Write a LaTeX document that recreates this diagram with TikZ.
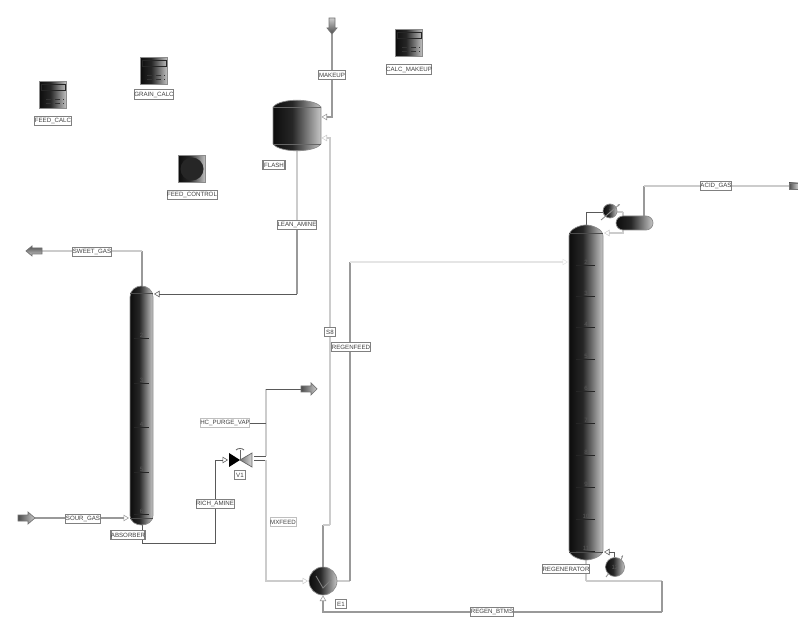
\documentclass[tikz,border=0pt]{standalone}
\usepackage{fontspec}
\setmainfont{Liberation Sans}
\usetikzlibrary{arrows.meta}
\usetikzlibrary{positioning}

\pgfdeclarehorizontalshading{steelshade}{100bp}{color(0bp)=(black!95); color(25bp)=(black!95); color(45bp)=(black!85); color(75bp)=(black!22); color(100bp)=(black!22)}

\tikzset{
  tag/.style={draw=black!50, fill=white, line width=0.5pt, font=\fontsize{3.5}{4}\selectfont, text=black!75, inner sep=0pt, minimum height=0.19cm},
  pipe/.style={draw=black!40, line width=0.65pt},
  pipelight/.style={draw=black!20, line width=0.6pt},
  pipefaint/.style={draw=black!10, line width=0.6pt},
  pipedark/.style={draw=black!65, line width=0.55pt},
  port/.style={-{Triangle[open,length=0.11cm,width=0.13cm,line width=0.3pt]}},
  steel/.style={shading=steelshade, draw=black!45, line width=0.4pt},
  calcbox/.style={steel, minimum width=0.55cm, minimum height=0.55cm, inner sep=0pt},
  tray/.style={draw=black!85, line width=0.45pt},
  traynum/.style={font=\fontsize{3.5}{4}\selectfont, text=black!65, inner sep=0pt},
  feedarrow/.style={draw=black!55, line width=0.4pt, left color=black!70, right color=black!20},
}

\begin{document}
\begin{tikzpicture}[x=0.02cm,y=-0.02cm]
  \useasboundingbox (0,0) rectangle (798,621);
  % Calculator blocks
  \node[calcbox] (calcmakeup) at (409,43) {};
  \node[calcbox] (graincalc) at (154,71) {};
  \node[calcbox] (feedcalc) at (53,95) {};
  \node[calcbox] (feedcontrol) at (192,169) {};
  \foreach \b in {calcmakeup,graincalc,feedcalc}{
    \draw[black!85, line width=0.4pt] ([shift={(2,3)}]\b.north west) rectangle ([shift={(-2,9)}]\b.north east);
    \draw[black!80, densely dashed, line width=0.5pt] ([shift={(7,-10)}]\b.south west) -- ([shift={(-3,-10)}]\b.south east);
    \draw[black!80, densely dashed, line width=0.5pt] ([shift={(7,-6)}]\b.south west) -- ([shift={(-3,-6)}]\b.south east);
  }
  \fill[black!85] (feedcontrol) circle (11.5);
  \node[tag, minimum width=0.88cm] (calcmakeuplab) at (409,69.5) {CALC\_MAKEUP};
  \node[tag, minimum width=0.78cm] (graincalclab) at (154,94.5) {GRAIN\_CALC};
  \node[tag, minimum width=0.72cm] (feedcalclab) at (53,121) {FEED\_CALC};
  \node[tag, minimum width=0.98cm] (feedcontrollab) at (192,195) {FEED\_CONTROL};

  % Streams
  \draw[pipe, port] (332,34) |- (321.5,117);
  \draw[pipelight] (297,151) -- (297,225);
  \draw[pipe] (297,225) -- (297,294);
  \draw[pipedark, port] (297,294) -- (154,294);
  \draw[pipe] (142,286) -- (142,251);
  \draw[pipelight] (142,251) -- (42,251);
  \draw[pipe, port] (35,518) -- (129,518);
  \draw[pipedark, port] (142,525) |- (215,543) |- (228,460);
  \draw[pipedark] (254,456) -- (266,456);
  \draw[pipelight] (266,456) -- (266,389);
  \draw[pipedark] (266,389) -- (301,389);
  \draw[pipedark] (225,423) -- (266,423);
  \draw[pipedark] (254,460) -- (266,460);
  \draw[pipelight, port] (266,460) |- (308,581);
  \draw[pipe] (323,568) -- (323,525);
  \draw[pipelight] (323,525) -- (330,525);
  \draw[pipelight, port] (330,525) |- (321.5,138);
  \draw[pipelight] (337,581) -- (350,581);
  \draw[pipe] (350,581) -- (350,262);
  \draw[pipefaint, port] (350,262) -- (568,262);
  \draw[pipedark] (586,225) |- (604,212);
  \draw[pipelight] (616,212) -- (623,212);
  \draw[pipelight, port] (623,212) |- (604,233);
  \draw[pipe] (644,216) -- (644,186);
  \draw[pipelight] (644,186) -- (789,186);
  \draw[pipedark, port] (614,558) |- (604,552);
  \draw[pipelight] (586,560) -- (586,581);
  \draw[pipelight] (586,581) -- (662,581);
  \draw[pipe] (662,581) -- (662,612);
  \draw[pipe, port] (662,612) -- (323,612) -- (323,595.5);

  % Flash drum
  \draw[steel] (273,107) .. controls (280,98) and (314,98) .. (321,107) -- (321,144)
    .. controls (314,153) and (280,153) .. (273,144) -- cycle;
  \draw[black!60, line width=0.3pt] (273,107) -- (321,107);
  \draw[black!60, line width=0.3pt] (273,144) -- (321,144);
  \node[tag, minimum width=0.44cm, line width=0.7pt] (flashlab) at (274,165) {FLASH};

  % Absorber column
  \draw[steel] (130,297) .. controls (130,290) and (136,286) .. (141.5,286)
    .. controls (147,286) and (153,290) .. (153,297) -- (153,515)
    .. controls (153,522) and (147,525) .. (141.5,525)
    .. controls (136,525) and (130,522) .. (130,515) -- cycle;
  \draw[black!70, line width=0.4pt] (130,293) -- (153,293);
  \draw[black!70, line width=0.4pt] (130,518) -- (153,518);
  \foreach \y [count=\n from 2] in {338,383,427,472,514}{
    \draw[tray] (134,\y) -- (149,\y);
    \node[traynum, above=0.3pt] (abstray\n) at (141.5,\y) {\n};
  }
  \node[tag, minimum width=0.66cm, line width=0.7pt] (absorberlab) at (128,535) {ABSORBER};

  % Regenerator column
  \draw[steel] (569,236) .. controls (569,229) and (580,225) .. (586,225)
    .. controls (592,225) and (603,229) .. (603,236) -- (603,550)
    .. controls (603,556) and (592,560) .. (586,560)
    .. controls (580,560) and (569,556) .. (569,550) -- cycle;
  \draw[black!70, line width=0.4pt] (569,233) -- (603,233);
  \draw[black!70, line width=0.4pt] (569,552) -- (603,552);
  \foreach \y [count=\n from 2] in {265,296,327,359,391,423,455,487,519,551}{
    \draw[tray] (576,\y) -- (595,\y);
    \node[traynum, above=0.3pt] (regentray\n) at (586,\y) {\n};
  }
  \node[tag, minimum width=0.92cm, line width=0.7pt] (regenlab) at (566,569) {REGENERATOR};

  % Condenser, reflux drum and reboiler
  \node[circle, steel, minimum size=0.28cm, inner sep=0pt, traynum] (condenser) at (610,211) {1};
  \draw[black!45, line width=0.5pt, -{Stealth[length=0.05cm]}] (601,220) -- (620,204);
  \draw[rounded corners=4pt, steel] (616,216) rectangle (653,230);
  \node[circle, steel, minimum size=0.38cm, inner sep=0pt, traynum] (reboiler) at (615,567) {12};
  \draw[black!45, line width=0.5pt] (606,577) -- (609,573);
  \draw[black!45, line width=0.5pt, -{Stealth[length=0.05cm]}] (621,560) -- (623,555);

  % Heat exchanger
  \node[circle, steel, minimum size=0.56cm, inner sep=0pt] (exchanger) at (323,581) {};
  \draw[black!50, line width=0.5pt] (316,576) -- (323,588) -- (331,580);

  % Valve
  \fill[black] (229,453) -- (240,460) -- (229,467) -- cycle;
  \draw[black!60, line width=0.4pt, left color=black!55, right color=black!15] (252,453) -- (240,460) -- (252,467) -- cycle;
  \draw[black!60, line width=0.4pt] (240,460) -- (240,450);
  \draw[black!60, line width=0.5pt] (236,450) .. controls (238,448) and (242,448) .. (244,450);
  \node[tag, minimum width=0.22cm] (valvelab) at (240,475) {V1};

  % Feed and product arrows
  \draw[feedarrow, shading angle=180] (329,18) -- (335,18) -- (335,28) -- (337,28) -- (332,34) -- (327,28) -- (329,28) -- cycle;
  \draw[feedarrow, shading angle=0] (26,251) -- (32,246) -- (32,248) -- (42,248) -- (42,254) -- (32,254) -- (32,256) -- cycle;
  \draw[feedarrow] (18,515) -- (28,515) -- (28,512) -- (35,518) -- (28,524) -- (28,521) -- (18,521) -- cycle;
  \draw[feedarrow] (301,386) -- (311,386) -- (311,383) -- (317,389) -- (311,395) -- (311,392) -- (301,392) -- cycle;
  \draw[feedarrow] (789,183) rectangle (798,189);

  % Stream labels
  \node[tag, minimum width=0.54cm] (makeuplab) at (332,75) {MAKEUP};
  \node[tag, minimum width=0.76cm] (leanlab) at (297,225) {LEAN\_AMINE};
  \node[tag, minimum width=0.74cm] (sweetlab) at (92,252) {SWEET\_GAS};
  \node[tag, minimum width=0.68cm] (sourlab) at (83,519) {SOUR\_GAS};
  \node[tag, minimum width=0.74cm] (richlab) at (215,504) {RICH\_AMINE};
  \node[tag, draw=black!25, minimum width=0.96cm] (purgelab) at (225,423) {HC\_PURGE\_VAP};
  \node[tag, draw=black!25, minimum width=0.52cm] (mxlab) at (283,522) {MXFEED};
  \node[tag, minimum width=0.22cm] (s8lab) at (330,332) {S8};
  \node[tag, minimum width=0.78cm] (regenfeedlab) at (351,347) {REGENFEED};
  \node[tag, minimum width=0.62cm] (acidlab) at (716,186) {ACID\_GAS};
  \node[tag, minimum width=0.82cm] (btmslab) at (492,612) {REGEN\_BTMS};
  \node[tag, minimum width=0.22cm, line width=0.7pt] (e1lab) at (341,604) {E1};
\end{tikzpicture}
\end{document}
